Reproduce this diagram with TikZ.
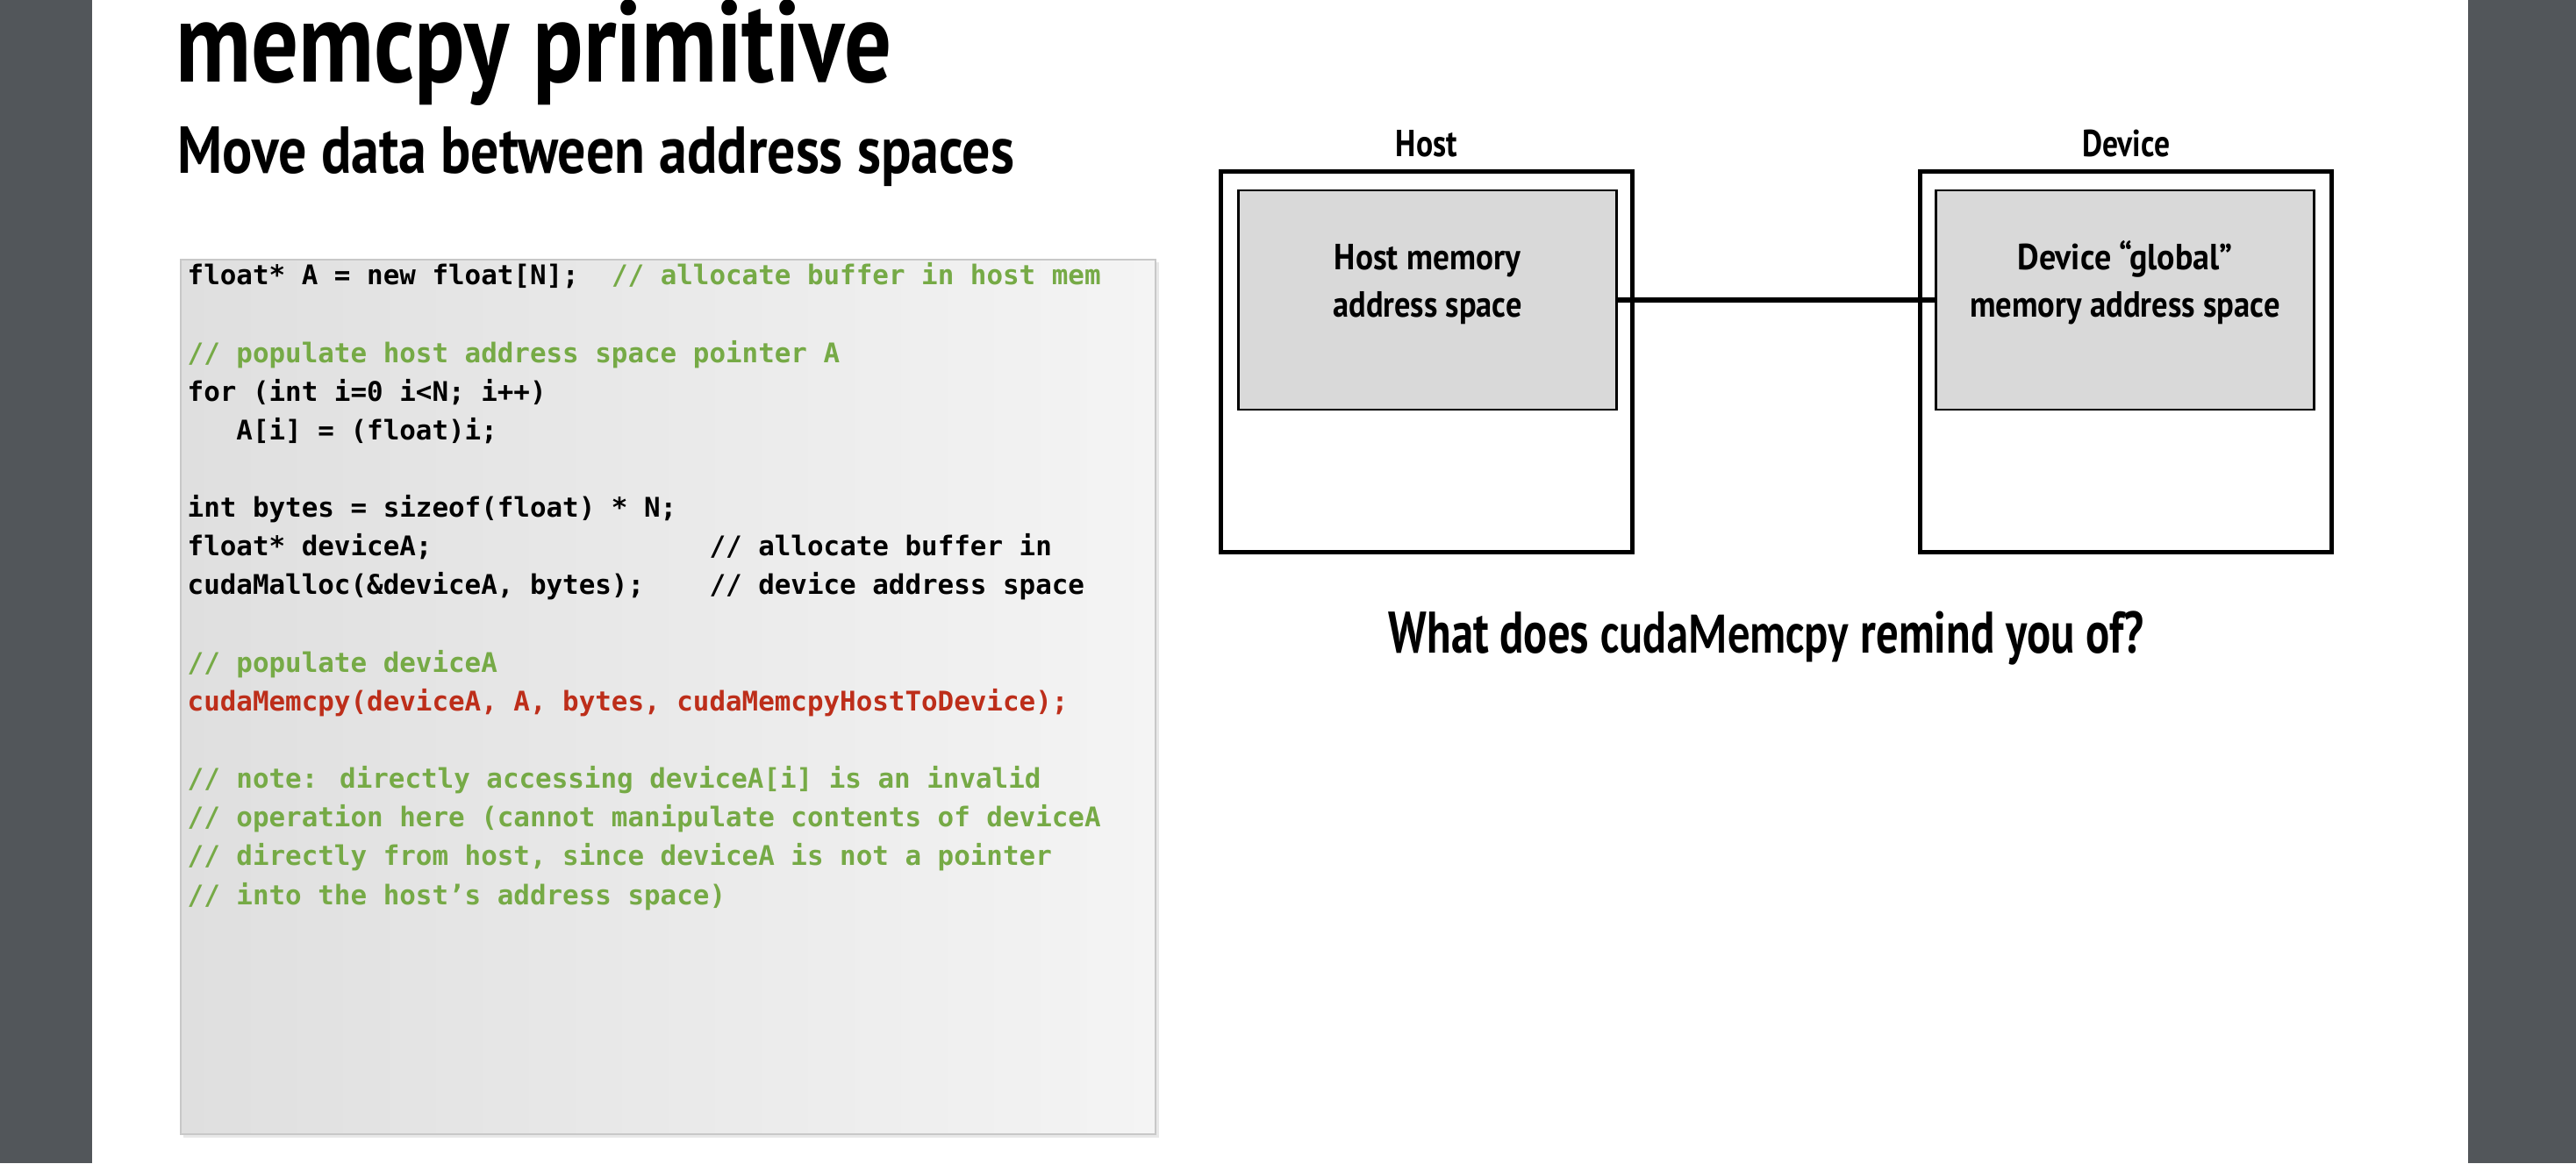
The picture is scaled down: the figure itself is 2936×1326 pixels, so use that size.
\documentclass[tikz,border=0pt]{standalone}
\usepackage{fontspec}
\usepackage{graphicx}
\usetikzlibrary{shadows, positioning}
\newfontfamily\headfont{PT Sans}
\newfontfamily\codefont{DejaVu Sans Mono}
\newfontfamily\calfont{Carlito}
\definecolor{barGray}{RGB}{82,86,90}
\definecolor{memGray}{RGB}{217,217,217}
\definecolor{codeLeft}{RGB}{223,223,223}
\definecolor{codeRight}{RGB}{244,244,244}
\definecolor{codeEdge}{RGB}{200,200,200}
\definecolor{cmtGreen}{RGB}{118,170,70}
\definecolor{callRed}{RGB}{189,46,26}
\newcommand\fitw[2]{\resizebox{#1}{\height}{#2}}
\newcommand\pad[1]{\hspace*{#1\fontcharwd\font`0}}
\newcommand\cmt[1]{\textcolor{cmtGreen}{#1}}
\tikzset{
  sidebar/.style={fill=barGray, draw=none},
  titletext/.style={inner sep=0, anchor=base west, font=\headfont\bfseries\fontsize{37.5}{40}\selectfont},
  subtext/.style={inner sep=0, anchor=base west, font=\headfont\bfseries\fontsize{21.5}{24}\selectfont},
  codebox/.style={draw=codeEdge, line width=0.6pt, left color=codeLeft, right color=codeRight, minimum width=11.11cm, minimum height=9.97cm, inner sep=0},
  codetext/.style={inner sep=0, anchor=base west, align=left, font=\codefont\bfseries\fontsize{8.78}{12.55}\selectfont},
  spacebox/.style={draw, line width=1.4pt, fill=white, minimum width=4.68cm, minimum height=4.33cm, inner sep=0},
  membox/.style={draw, line width=0.8pt, fill=memGray, minimum width=4.3cm, minimum height=2.5cm, inner sep=0},
  spacelabel/.style={inner sep=0, anchor=base, font=\headfont\bfseries\fontsize{12.2}{14}\selectfont},
  memlabel/.style={inner sep=0, anchor=base, align=center, font=\headfont\bfseries\fontsize{11.8}{15.1}\selectfont},
  asktext/.style={inner sep=0, anchor=base, font=\headfont\bfseries\fontsize{19}{22}\selectfont},
  link/.style={line width=1.5pt}
}
\begin{document}
\begin{tikzpicture}[x=0.01cm, y=-0.01cm]
\useasboundingbox (0,0) rectangle (2936,1326);
\fill[white] (0,0) rectangle (2936,1326);

% page edges
\fill[sidebar] (0,0) rectangle (105,1326);
\fill[sidebar] (2813,0) rectangle (2936,1326);

% headings
\node[titletext] (title) at (200,93) {\fitw{8.15cm}{memcpy primitive}};
\node[subtext] (subtitle) at (202,197) {\fitw{9.53cm}{Move data between address spaces}};

% code listing (base = last line)
\node[codebox, drop shadow={shadow xshift=1pt, shadow yshift=-1pt, opacity=0.15, fill=black!60}] (codebox) at (761.5,794.5) {};
\node[codetext] (code) at (213,1031) {%
float* A = new float[N];\pad{2}\cmt{// allocate buffer in host mem}\\
\\
\cmt{// populate host address space pointer A}\\
for (int i=0 i<N; i++)\\
\pad{3}A[i] = (float)i;\\
\\
int bytes = sizeof(float) * N;\\
float* deviceA;\pad{17}// allocate buffer in\\
cudaMalloc(\&deviceA, bytes);\pad{4}// device address space\\
\\
\cmt{// populate deviceA}\\
\textcolor{callRed}{cudaMemcpy(deviceA, A, bytes, cudaMemcpyHostToDevice);}\\
\\
\cmt{// note: directly accessing deviceA[i] is an invalid}\\
\cmt{// operation here (cannot manipulate contents of deviceA}\\
\cmt{// directly from host, since deviceA is not a pointer}\\
\cmt{// into the host’s address space)}};

% host and device
\node[spacelabel] (hostname) at (1626,178) {\fitw{0.70cm}{Host}};
\node[spacelabel] (devname) at (2423,178) {\fitw{1.00cm}{Device}};
\node[spacebox] (host) at (1626,412.5) {};
\node[spacebox] (dev) at (2423,412.5) {};
\node[membox] (hostmem) at (1627,342) {};
\node[membox] (devmem) at (2422,342) {};
\node[memlabel] (hostmemtext) at (1627,361) {\fitw{2.12cm}{Host memory}\\\fitw{2.15cm}{address space}};
\node[memlabel] (devmemtext) at (2422,361) {\fitw{2.45cm}{Device “global”}\\\fitw{3.53cm}{memory address space}};
\draw[link] (hostmem.east) -- (devmem.west);

% question
\node[asktext] (ask) at (2013,744) {\fitw{8.6cm}{What does {\calfont cudaMemcpy} remind you of?}};
\end{tikzpicture}
\end{document}
